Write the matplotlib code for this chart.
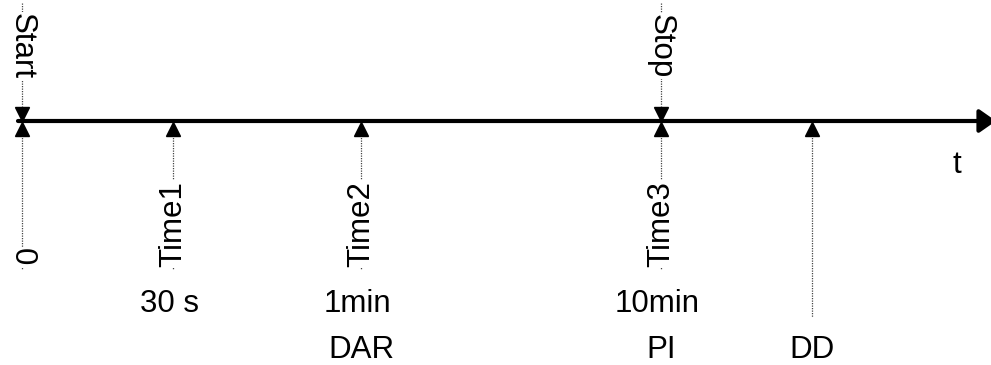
import matplotlib.pyplot as plt

plt.rcParams['font.family'] = ['Liberation Sans', 'DejaVu Sans']

# positions of the events along the time axis
event_pos = [22, 173, 361, 661, 812]
top_labels = ['Start', '', '', 'Stop', '']
rot_labels = ['0', 'Time1', 'Time2', 'Time3', '']
time_labels = ['', '30 s', '1min', '10min', '']
phase_labels = ['', '', 'DAR', 'PI', 'DD']

fig = plt.figure(figsize=(9.91, 3.65), dpi=100)
ax = fig.add_axes([0, 0, 1, 1])
ax.set_xlim(0, 991)
ax.set_ylim(365, 0)
ax.axis('off')

axis_y = 121
fs = 22.5
dot = dict(color='#444444', lw=0.9, linestyle=(0, (1, 1)), zorder=1)
box = dict(facecolor='white', edgecolor='none', pad=1)

# main time axis with arrow head
ax.annotate('', xy=(996, axis_y), xytext=(18, axis_y), annotation_clip=False,
            arrowprops=dict(arrowstyle='-|>,head_length=1.0,head_width=0.7',
                            lw=3, color='black', shrinkA=0, shrinkB=0))
ax.text(957, 173, 't', fontsize=fs, ha='center', va='baseline')

for x, top, rot, tl, ph in zip(event_pos, top_labels, rot_labels,
                               time_labels, phase_labels):
    # lower marker + dotted line
    low_end = 270 if rot else 317
    ax.plot([x, x], [135, low_end], **dot)
    ax.plot(x, axis_y + 7.5, marker='^', color='black', markersize=10, zorder=3)
    if rot:
        ax.text(x, 257 if rot == '0' else 224, rot, fontsize=fs, rotation=90 if rot != '0' else -90,
                ha='center', va='center', bbox=box, zorder=2)
    if top:
        ax.plot([x, x], [3, 106], **dot)
        ax.plot(x, axis_y - 7.5, marker='v', color='black', markersize=10, zorder=3)
        ax.text(x, 46, top, fontsize=fs, rotation=-90,
                ha='center', va='center', bbox=box, zorder=2)
    if tl:
        ax.text(x - 4, 312, tl, fontsize=fs, ha='center', va='baseline')
    if ph:
        ax.text(x, 358, ph, fontsize=fs, ha='center', va='baseline')

fig.savefig('out.png', dpi=100)
